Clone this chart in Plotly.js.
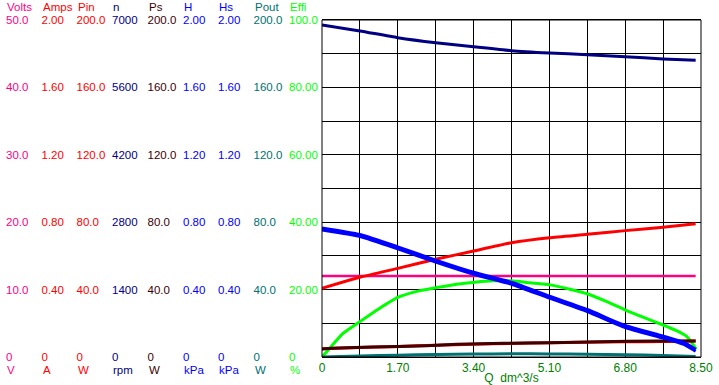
<!DOCTYPE html>
<html><head><meta charset="utf-8">
<script src="https://cdn.plot.ly/plotly-3.0.1.min.js"></script>
<style>body{margin:0;padding:0;background:#fff}</style></head>
<body>
<div id="chart" style="width:719px;height:385px"></div>
<script>
// ---- data ----
const Q = [0, 0.85, 1.7, 2.55, 3.4, 4.25, 5.1, 5.95, 6.8, 7.65, 8.38];
const volts = [12.0, 12.0, 12.0, 12.0, 12.0, 12.0, 12.0, 12.0, 12.0, 12.0, 12.0];
const amps  = [0.408, 0.473, 0.526, 0.580, 0.629, 0.678, 0.708, 0.728, 0.750, 0.770, 0.791];
const pin   = [4.9, 5.6, 6.3, 7.0, 7.6, 8.0, 8.5, 8.7, 9.0, 9.2, 9.5];
const rpm   = [6896, 6772, 6633, 6529, 6446, 6363, 6315, 6280, 6238, 6190, 6163];
const QPs   = [0, 0.37, 1.11, 2.35, 3.02, 4.07, 5.11, 6.23, 7.51, 8.38];
const ps    = [4.75, 5.3, 5.9, 6.7, 7.5, 8.1, 8.5, 9.1, 9.5, 9.5];
const QH    = [0, 0.85, 1.7, 2.55, 3.4, 4.25, 5.1, 5.95, 6.8, 7.65, 8.1, 8.38];
const H     = [0.766, 0.727, 0.654, 0.575, 0.503, 0.444, 0.361, 0.282, 0.187, 0.124, 0.088, 0.046];
const Hs    = [0.754, 0.715, 0.642, 0.563, 0.491, 0.432, 0.349, 0.270, 0.175, 0.112, 0.076, 0.034];
const pout  = [0, 0.62, 1.11, 1.47, 1.75, 1.9, 1.85, 1.7, 1.3, 0.95, 0.3];
const QEff  = [0, 0.14, 0.47, 0.85, 1.26, 1.7, 2.2, 2.57, 3.02, 3.43, 3.84, 4.25, 4.66, 5.11, 5.56, 5.96, 6.39, 6.81, 7.2, 7.65, 7.95, 8.17, 8.33, 8.39];
const effi  = [0, 2.1, 7.0, 10.5, 14.2, 17.7, 19.7, 20.6, 21.6, 22.2, 22.6, 22.6, 22.0, 21.4, 20.1, 18.7, 16.4, 13.9, 11.8, 9.5, 7.8, 6.2, 3.6, 2.3];

const colNames = ['Volts','Amps','Pin','n','Ps','H','Hs','Pout','Effi'];
const colUnits = ['V','A','W','rpm','W','kPa','kPa','W','%'];
const colMax   = [50, 2, 200, 7000, 200, 2, 2, 200, 100];
const colTicks = [
  ['0','10.0','20.0','30.0','40.0','50.0'],
  ['0','0.40','0.80','1.20','1.60','2.00'],
  ['0','40.0','80.0','120.0','160.0','200.0'],
  ['0','1400','2800','4200','5600','7000'],
  ['0','40.0','80.0','120.0','160.0','200.0'],
  ['0','0.40','0.80','1.20','1.60','2.00'],
  ['0','0.40','0.80','1.20','1.60','2.00'],
  ['0','40.0','80.0','120.0','160.0','200.0'],
  ['0','20.00','40.00','60.00','80.00','100.0']
];
const colColors = ['#ff0080','#ff0000','#ff0000','#000080','#400000','#0000ff','#0000ff','#007070','#00ff00'];
const xTickVals = [0, 0.85, 1.7, 2.55, 3.4, 4.25, 5.1, 5.95, 6.8, 7.65, 8.5];
const xTickText = ['0','','1.70','','3.40','','5.10','','6.80','','8.50'];

// ---- layout ----
const W = 719, Hh = 385;
const mL = 0, mR = 18, mT = 20, mB = 28;
const paperW = W - mL - mR, paperH = Hh - mT - mB;
const plotLeft = 322;
const colX = [5, 40.5, 75.5, 111, 146.5, 182, 217, 252.5, 288];
const FONT = 'Liberation Sans, Arial, sans-serif';
const FS = 11.5;

// Effi (index 8) lives on the primary y axis (0-100), which also draws the grid
const axisName = i => (i === 8 ? 'y' : 'y' + (i + 2));
const axisKey  = i => (i === 8 ? 'yaxis' : 'yaxis' + (i + 2));

const layout = {
  width: W, height: Hh,
  margin: {l: mL, r: mR, t: mT, b: mB, pad: 0},
  paper_bgcolor: '#fff', plot_bgcolor: '#fff',
  showlegend: false,
  font: {family: FONT, size: FS},
  xaxis: {
    domain: [plotLeft / paperW, 1], range: [0, 8.5],
    tickvals: xTickVals, ticktext: xTickText, ticks: '',
    showgrid: true, gridcolor: '#000', gridwidth: 1,
    showline: true, linecolor: '#000', linewidth: 1, mirror: true,
    zeroline: false, tickfont: {color: '#008000', size: 12, family: FONT},
    title: {text: 'Q\u00a0\u00a0dm^3/s', font: {color: '#008000', size: 12, family: FONT}, standoff: 2},
    automargin: false, fixedrange: true
  },
  shapes: [{type: 'rect', xref: 'x domain', yref: 'y domain', x0: 0, x1: 1, y0: 0, y1: 1,
            line: {color: '#000', width: 1}, layer: 'above'}],
  annotations: []
};

for (let i = 0; i < colNames.length; i++) {
  const max = colMax[i];
  const vals = colTicks[i].map((_, k) => max * k / (colTicks[i].length - 1));
  const ax = {
    anchor: 'free', position: colX[i] / paperW, side: 'right',
    range: [0, max], tickvals: vals, ticktext: colTicks[i], ticks: '',
    showgrid: false, zeroline: false, showline: false,
    tickfont: {color: colColors[i], size: FS, family: FONT},
    automargin: false, fixedrange: true
  };
  if (i === 8) {
    ax.domain = [0, 1];
    ax.showgrid = true; ax.gridcolor = '#000'; ax.gridwidth = 1;
    ax.tickvals = [0,10,20,30,40,50,60,70,80,90,100];
    ax.ticktext = ax.tickvals.map(v => { const k = colTicks[8].findIndex((_, j) => j * 20 === v); return k >= 0 ? colTicks[8][k] : ''; });
  } else {
    ax.overlaying = 'y';
  }
  layout[axisKey(i)] = ax;
  layout.annotations.push({
    xref: 'paper', yref: 'paper', x: colX[i] / paperW, y: (357 - 7) / paperH,
    text: colNames[i], showarrow: false, xanchor: 'left', yanchor: 'middle',
    font: {color: colColors[i], size: FS, family: FONT}
  });
  layout.annotations.push({
    xref: 'paper', yref: 'paper', x: colX[i] / paperW, y: (357 - 370) / paperH,
    text: colUnits[i], showarrow: false, xanchor: 'left', yanchor: 'middle',
    font: {color: colColors[i], size: FS, family: FONT}
  });
}

function tr(x, y, axIdx, color, width) {
  return {x: x, y: y, type: 'scatter', mode: 'lines', yaxis: axisName(axIdx),
          line: {color: color, width: width, shape: 'spline', smoothing: 0.5}, hoverinfo: 'skip'};
}
const data = [
  tr(QEff, effi, 8, '#00ff00', 3),
  tr(QH, Hs, 6, '#0000ff', 3),
  tr(QH, H, 5, '#0000ff', 3),
  tr(Q, amps, 1, '#ff0000', 3),
  tr(Q, volts, 0, '#ff0080', 2.5),
  tr(Q, pin, 2, '#ff0000', 3),
  tr(QPs, ps, 4, '#400000', 3),
  tr(Q, pout, 7, '#007070', 3),
  tr(Q, rpm, 3, '#000080', 3)
];

Plotly.newPlot('chart', data, layout, {staticPlot: true, displayModeBar: false});
</script>
</body></html>
